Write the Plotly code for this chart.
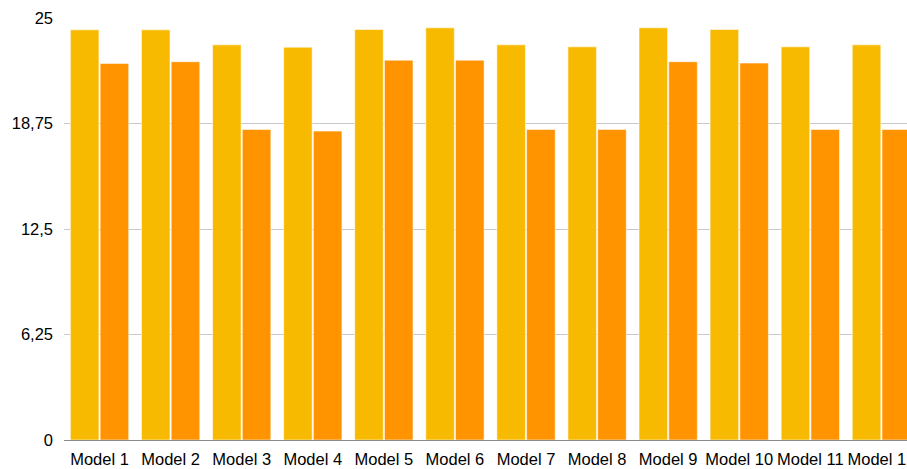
import plotly.graph_objects as go

# Category labels and the two series values
models = [f"Model {i}" for i in range(1, 13)]
series_a = [24.30, 24.30, 23.41, 23.27, 24.32, 24.42, 23.41, 23.29, 24.42, 24.32, 23.29, 23.41]
series_b = [22.31, 22.41, 18.40, 18.30, 22.50, 22.50, 18.40, 18.40, 22.41, 22.33, 18.40, 18.40]
y_ticks = [0, 6.25, 12.5, 18.75, 25]

YELLOW = "#F8BA00"
ORANGE = "#FF9300"
OUTLINE = "rgba(255,255,255,0.55)"

fig = go.Figure()
fig.add_trace(go.Bar(x=models, y=series_a, marker=dict(color=YELLOW, line=dict(color=OUTLINE, width=1))))
fig.add_trace(go.Bar(x=models, y=series_b, marker=dict(color=ORANGE, line=dict(color=OUTLINE, width=1))))

fig.update_layout(
    width=907,
    height=469,
    margin=dict(l=64, r=0, t=17.5, b=29),
    barmode="group",
    bargap=0.163,
    bargroupgap=0.04,
    showlegend=False,
    plot_bgcolor="white",
    paper_bgcolor="white",
    separators=",.",
    font=dict(family="Liberation Sans, Arial, sans-serif", size=16.5, color="#000000"),
)
fig.update_xaxes(
    range=[-0.5, 11.36],
    automargin=False,
    showgrid=False,
    showline=True,
    linecolor="#8a8a8a",
    linewidth=1,
    ticks="",
    tickfont=dict(size=16.5),
    ticklabelstandoff=4,
)
fig.update_yaxes(
    range=[0, 25],
    automargin=False,
    tickvals=y_ticks,
    showgrid=True,
    gridcolor="#c9c9c9",
    gridwidth=1,
    zeroline=False,
    showline=False,
    ticks="",
    tickfont=dict(size=16.5),
    ticklabelstandoff=10,
)

fig.write_html("out.html")
